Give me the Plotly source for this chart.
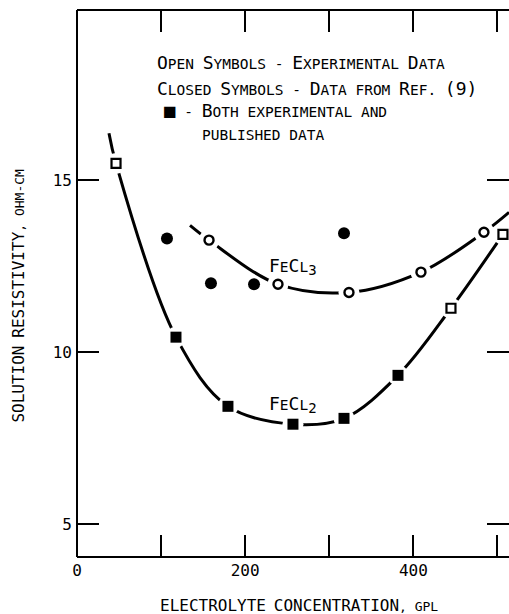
import plotly.graph_objects as go

FONT = "DejaVu Sans Mono"

# ---- data ----
# FeCl2 smooth curve (start of the drawn curve, then through the symbols)
fecl2_curve_x = [38.0, 46.4, 117.7, 179.5, 256.8, 317.5, 381.7, 444.7, 506.5]
fecl2_curve_y = [16.37, 15.49, 10.44, 8.43, 7.91, 8.08, 9.33, 11.28, 13.43]
# FeCl3 smooth curve
fecl3_curve_x = [134.4, 157.0, 239.0, 323.4, 409.0, 483.9, 513.7]
fecl3_curve_y = [13.69, 13.26, 11.98, 11.74, 12.33, 13.49, 14.07]

# FeCl2 open squares (experimental)
fecl2_open_x = [46.4, 444.7, 506.5]
fecl2_open_y = [15.49, 11.28, 13.43]
# FeCl2 filled squares (both experimental and published)
fecl2_both_x = [117.7, 179.5, 256.8, 317.5, 381.7]
fecl2_both_y = [10.44, 8.43, 7.91, 8.08, 9.33]
# FeCl3 open circles (experimental)
fecl3_open_x = [157.0, 239.0, 323.4, 409.0, 483.9]
fecl3_open_y = [13.26, 11.98, 11.74, 12.33, 13.49]
# FeCl3 closed circles (Ref. 9)
fecl3_ref_x = [107.0, 317.5, 159.3, 210.5]
fecl3_ref_y = [13.31, 13.46, 12.01, 11.98]

x_tickvals = [0, 100, 200, 300, 400, 500]
x_ticktext = ["0", "", "200", "", "400", ""]
y_tickvals = [5, 10, 15]
y_ticktext = ["5", "10", "15"]


def sc(s, big=18, small=14.5):
    """Small-caps: uppercase/digits big, lowercase rendered as small capitals."""
    out = []
    cur = None
    buf = ""
    for ch in s:
        kind = "s" if (ch.islower() or ch in " ,-.") else "b"
        if kind != cur and buf:
            size = big if cur == "b" else small
            out.append(f'<span style="font-size:{size}px">{buf}</span>')
            buf = ""
        cur = kind
        buf += ch.upper()
    if buf:
        size = big if cur == "b" else small
        out.append(f'<span style="font-size:{size}px">{buf}</span>')
    return "".join(out)


fig = go.Figure()

# curves
for cx, cy in [(fecl2_curve_x, fecl2_curve_y), (fecl3_curve_x, fecl3_curve_y)]:
    fig.add_trace(go.Scatter(x=cx, y=cy, mode="lines",
                             line=dict(color="black", width=3, shape="spline", smoothing=1.0),
                             hoverinfo="skip", showlegend=False))

# white halos (gaps in the curve around symbols)
halo_x = fecl2_open_x + fecl2_both_x + fecl3_open_x
halo_y = fecl2_open_y + fecl2_both_y + fecl3_open_y
fig.add_trace(go.Scatter(x=halo_x, y=halo_y, mode="markers",
                         marker=dict(symbol="circle", size=21, color="white", line=dict(width=0)),
                         hoverinfo="skip", showlegend=False))

fig.add_trace(go.Scatter(x=fecl2_open_x, y=fecl2_open_y, mode="markers",
                         marker=dict(symbol="square", size=9, color="white", line=dict(color="black", width=2.2)),
                         showlegend=False))
fig.add_trace(go.Scatter(x=fecl2_both_x, y=fecl2_both_y, mode="markers",
                         marker=dict(symbol="square", size=11, color="black", line=dict(width=0)),
                         showlegend=False))
fig.add_trace(go.Scatter(x=fecl3_open_x, y=fecl3_open_y, mode="markers",
                         marker=dict(symbol="circle", size=9, color="white", line=dict(color="black", width=2.4)),
                         showlegend=False))
fig.add_trace(go.Scatter(x=fecl3_ref_x, y=fecl3_ref_y, mode="markers",
                         marker=dict(symbol="circle", size=12, color="black", line=dict(width=0)),
                         showlegend=False))

X_MAX = 513.7
Y_MIN, Y_MAX = 4.05, 19.95

fig.update_layout(
    width=509, height=614,
    margin=dict(l=77, r=0, t=10, b=57),
    paper_bgcolor="white", plot_bgcolor="white",
    font=dict(family=FONT, color="black", size=16),
    xaxis=dict(range=[0, X_MAX], tickvals=x_tickvals, ticktext=x_ticktext, ticks="inside",
               ticklen=22, tickwidth=1.5, tickcolor="black", mirror="ticks", showline=False,
               showgrid=False, zeroline=False, ticklabelstandoff=2,
               tickfont=dict(family=FONT, size=16)),
    yaxis=dict(range=[Y_MIN, Y_MAX], tickvals=y_tickvals, ticktext=y_ticktext, ticks="inside",
               ticklen=22, tickwidth=1.5, tickcolor="black", mirror="ticks", showline=False,
               showgrid=False, zeroline=False, ticklabelstandoff=4,
               tickfont=dict(family=FONT, size=16)),
    shapes=[
        dict(type="line", xref="paper", yref="paper", x0=0, x1=0, y0=0, y1=1, line=dict(color="black", width=2)),
        dict(type="line", xref="paper", yref="paper", x0=0, x1=1, y0=0, y1=0, line=dict(color="black", width=2)),
        dict(type="line", xref="paper", yref="paper", x0=0, x1=1, y0=1, y1=1, line=dict(color="black", width=2)),
    ],
)

ann = []
# legend text block
ann.append(dict(x=92.7, y=18.43, xref="x", yref="y", xanchor="left", yanchor="middle", showarrow=False,
                text=sc("Open Symbols - Experimental Data")))
ann.append(dict(x=92.7, y=17.67, xref="x", yref="y", xanchor="left", yanchor="middle", showarrow=False,
                text=sc("Closed Symbols - Data from Ref. (9)")))
ann.append(dict(x=101.5, y=17.03, xref="x", yref="y", xanchor="left", yanchor="middle", showarrow=False,
                text='<span style="font-size:19px">■</span><span style="font-size:14.5px"> - </span>'
                     + sc("Both experimental and")))
ann.append(dict(x=146.3, y=16.31, xref="x", yref="y", xanchor="left", yanchor="middle", showarrow=False,
                text=sc("published data")))
# curve labels
ann.append(dict(x=257, y=12.5, xref="x", yref="y", xanchor="center", yanchor="middle", showarrow=False,
                text=sc("FeCl") + '<sub><span style="font-size:14px">3</span></sub>'))
ann.append(dict(x=257, y=8.49, xref="x", yref="y", xanchor="center", yanchor="middle", showarrow=False,
                text=sc("FeCl") + '<sub><span style="font-size:14px">2</span></sub>'))
# axis titles
ann.append(dict(x=0.515, y=0, xref="paper", yref="paper", xanchor="center", yanchor="middle", yshift=-48,
                showarrow=False, text=sc("ELECTROLYTE CONCENTRATION, gpl", big=16, small=13)))
ann.append(dict(x=0, y=0.477, xref="paper", yref="paper", xanchor="center", yanchor="middle", xshift=-58.5,
                textangle=-90, showarrow=False, text=sc("SOLUTION RESISTIVITY, ohm-cm", big=16, small=13)))
fig.update_layout(annotations=ann)

fig.write_html("out.html")
